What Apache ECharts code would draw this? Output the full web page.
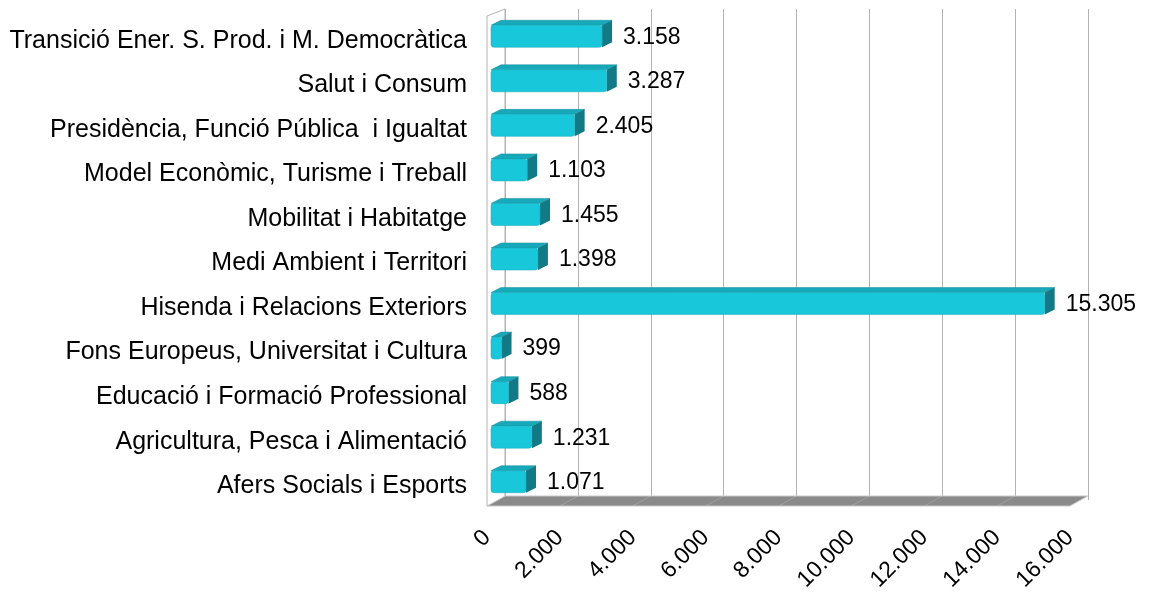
<!DOCTYPE html>
<html>
<head>
<meta charset="utf-8">
<script src="https://cdn.jsdelivr.net/npm/echarts@6/dist/echarts.min.js"></script>
<style>
  html, body { margin: 0; padding: 0; background: #fff; }
  #chart { width: 1153px; height: 594px; }
</style>
</head>
<body>
<div id="chart"></div>
<script>
// conselleries (de dalt a baix)
const categories = [
    'Transició Ener. S. Prod. i M. Democràtica',
    'Salut i Consum',
    'Presidència, Funció Pública  i Igualtat',
    'Model Econòmic, Turisme i Treball',
    'Mobilitat i Habitatge',
    'Medi Ambient i Territori',
    'Hisenda i Relacions Exteriors',
    'Fons Europeus, Universitat i Cultura',
    'Educació i Formació Professional',
    'Agricultura, Pesca i Alimentació',
    'Afers Socials i Esports'
];
const values = [3158, 3287, 2405, 1103, 1455, 1398, 15305, 399, 588, 1231, 1071];
const axisMax = 16000;
const axisStep = 2000;

const FONT = 'Liberation Sans, Arial, sans-serif';
const DEPTH_X = 18, DEPTH_Y = -7; // fons de la caixa 3D
const BAR_DX = 10, BAR_DY = -5;   // gruix de la barra

function fmt(n) {
    return String(n).replace(/\B(?=(\d{3})+(?!\d))/g, '.');
}

// parets i terra
function renderFrame(params, api) {
    const cs = params.coordSys;
    const x0 = cs.x, x1 = cs.x + cs.width;
    const yT = cs.y, yB = cs.y + cs.height;
    const children = [];
    // paret esquerra
    children.push({
        type: 'polygon',
        shape: { points: [[x0, yB], [x0, yT], [x0 + DEPTH_X, yT + DEPTH_Y], [x0 + DEPTH_X, yB + DEPTH_Y]] },
        style: { fill: '#fff', stroke: '#b3b3b3', lineWidth: 1 }
    });
    // terra
    children.push({
        type: 'polygon',
        shape: { points: [[x0, yB], [x0 + DEPTH_X, yB + DEPTH_Y - 3], [x1 + DEPTH_X, yB + DEPTH_Y - 3], [x1, yB]] },
        style: { fill: '#8a8a8a', stroke: '#c8c8c8', lineWidth: 1 }
    });
    for (let v = 0; v <= axisMax; v += axisStep) {
        const p = api.coord([v, 0]);
        children.push({
            type: 'line',
            shape: { x1: p[0], y1: yB, x2: p[0] + DEPTH_X, y2: yB + DEPTH_Y - 3 },
            style: { stroke: 'rgba(255,255,255,0.18)', lineWidth: 1 }
        });
    }
    return { type: 'group', children: children };
}

function renderBar(params, api) {
    const idx = api.value(1);
    const val = api.value(0);
    const c0 = api.coord([0, idx]);
    const c1 = api.coord([val, idx]);
    const h = 22;
    const x0 = c0[0] + 4, x1 = c1[0];
    const yT = c0[1] - 2 - h / 2, yB = yT + h;
    return {
        type: 'group',
        children: [
            {
                type: 'polygon',
                shape: { points: [[x0, yT], [x0 + BAR_DX, yT + BAR_DY], [x1 + BAR_DX, yT + BAR_DY], [x1, yT]] },
                style: { fill: '#17a9ba', stroke: '#138c99', lineWidth: 0.5 }
            },
            {
                type: 'polygon',
                shape: { points: [[x1, yT], [x1 + BAR_DX, yT + BAR_DY], [x1 + BAR_DX, yB + BAR_DY], [x1, yB]] },
                style: { fill: '#117a86' }
            },
            {
                type: 'rect',
                shape: { x: x0, y: yT, width: x1 - x0, height: h, r: 3 },
                style: { fill: '#19c7db', stroke: '#14a6b6', lineWidth: 0.5 }
            },
            {
                type: 'text',
                x: x1 + BAR_DX + 11,
                y: (yT + yB) / 2 + 1,
                style: {
                    text: fmt(val),
                    fill: '#000',
                    font: '23px ' + FONT,
                    verticalAlign: 'middle',
                    align: 'left'
                }
            }
        ]
    };
}

const barData = values.map((v, i) => [v, i]);

const option = {
    backgroundColor: '#fff',
    animation: false,
    grid: [
        { left: 487 + DEPTH_X, top: 16 + DEPTH_Y, width: 583, height: 491 },
        { left: 487, top: 16, width: 583, height: 491 }
    ],
    xAxis: [
        {
            gridIndex: 0, type: 'value', min: 0, max: axisMax, interval: axisStep,
            axisLine: { show: false }, axisTick: { show: false }, axisLabel: { show: false },
            splitLine: { show: true, lineStyle: { color: '#b3b3b3', width: 1 } }
        },
        {
            gridIndex: 1, type: 'value', min: 0, max: axisMax, interval: axisStep,
            axisLine: { show: false }, axisTick: { show: false },
            splitLine: { show: false },
            axisLabel: {
                rotate: 45, margin: 28, color: '#000',
                fontFamily: FONT, fontSize: 23,
                formatter: v => fmt(v)
            }
        }
    ],
    yAxis: [
        {
            gridIndex: 0, type: 'category', data: categories, inverse: true,
            show: false
        },
        {
            gridIndex: 1, type: 'category', data: categories, inverse: true,
            axisLine: { show: false }, axisTick: { show: false },
            axisLabel: {
                margin: 20, color: '#000',
                formatter: v => '{c|' + v + '}',
                rich: {
                    c: { fontFamily: FONT, fontSize: 25, color: '#000', padding: [5, 0, 0, 0] }
                }
            }
        }
    ],
    series: [
        {
            type: 'custom', name: 'frame', xAxisIndex: 1, yAxisIndex: 1,
            data: [[0, 0]], renderItem: renderFrame, silent: true, z: 1
        },
        {
            type: 'custom', name: 'imports', xAxisIndex: 1, yAxisIndex: 1,
            data: barData, renderItem: renderBar,
            encode: { x: 0, y: 1 }, z: 3
        }
    ]
};

const myChart = echarts.init(document.getElementById('chart'));
myChart.setOption(option);
window.addEventListener('resize', function () {
    myChart.resize();
});
</script>
</body>
</html>
